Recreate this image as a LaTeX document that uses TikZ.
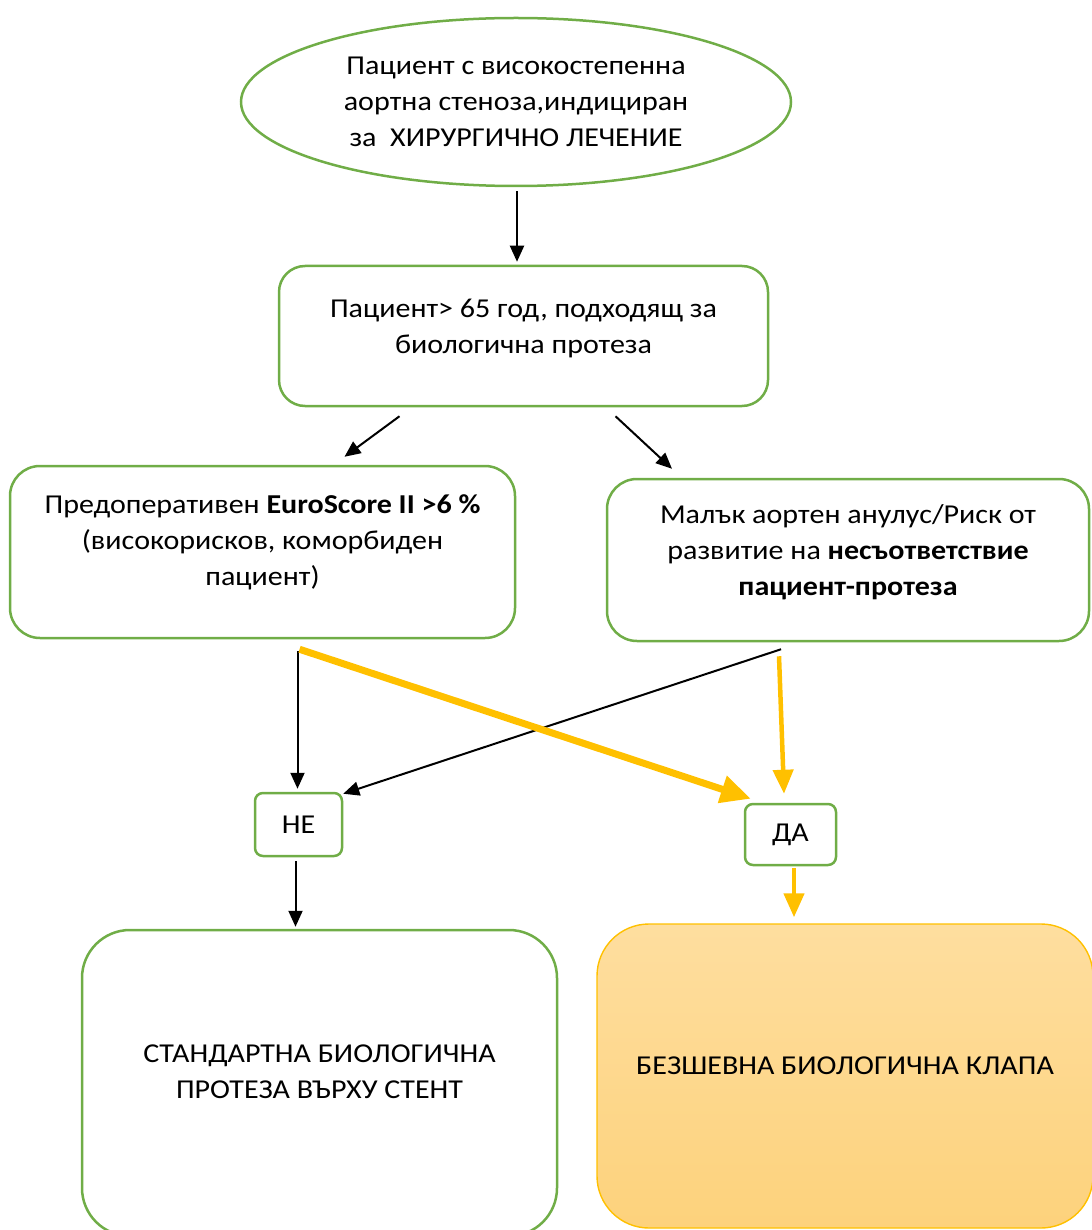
\documentclass[tikz,border=0pt]{standalone}
\usepackage{fontspec}
\setmainfont{Carlito}[FakeStretch=1.1]
\usepackage{xcolor}
\usepackage{tikz}
\usetikzlibrary{positioning, shapes.geometric, arrows.meta, calc}
\definecolor{flowgreen}{HTML}{70AD47}
\definecolor{flowamber}{HTML}{FFC000}
\definecolor{valvetop}{HTML}{FEDE9F}
\definecolor{valvebot}{HTML}{FDD27C}

\begin{document}
\begin{tikzpicture}[x=1pt, y=-1pt,
    every node/.style={font=\fontsize{27.3}{36}\selectfont, align=center, inner sep=0pt},
    start/.style ={ellipse, draw=flowgreen, line width=2.5pt, minimum width=550pt, minimum height=168pt},
    box/.style   ={draw=flowgreen, line width=2.5pt, rounded corners=26pt},
    choice/.style={draw=flowgreen, line width=2.5pt, rounded corners=8pt},
    valve/.style ={draw=flowamber, line width=1.4pt, rounded corners=52pt, top color=valvetop, bottom color=valvebot},
    arrow/.style ={-{Triangle[length=16pt, width=14pt]}, line width=2pt, draw=black},
    yes/.style   ={-{Triangle[length=24pt, width=20pt]}, line width=4.5pt, draw=flowamber},
    yesbold/.style={-{Triangle[length=30pt, width=27pt]}, line width=7pt, draw=flowamber}
]
\useasboundingbox (0,0) rectangle (1091,1230);
% Row 1 -- indication
\node[start] (patient) at (516,102) {Пациент с високостепенна\\аортна стеноза,индициран\\за\ \ ХИРУРГИЧНО ЛЕЧЕНИЕ};
\node[box, minimum width=489pt, minimum height=140pt] (age) at (523.5,336)
    {Пациент> 65 год, подходящ за\\биологична протеза\\[-16pt]~};
% Row 2 -- criteria
\node[box, minimum width=505pt, minimum height=172pt, rounded corners=30pt] (euro) at (262.5,552)
    {Предоперативен \textbf{EuroScore II >6 \%}\\(високорисков, коморбиден\\пациент)\\[-12pt]~};
\node[box, minimum width=482pt, minimum height=162pt, rounded corners=30pt] (annulus) at (848,560)
    {Малък аортен анулус/Риск от\\развитие на \textbf{несъответствие}\\\textbf{пациент-протеза}\\[-16pt]~};
% Row 3 -- answers
\node[choice, minimum width=87pt, minimum height=63pt] (no)  at (298.5,824.5) {НЕ};
\node[choice, minimum width=91pt, minimum height=61pt] (yes) at (790.5,834.5) {ДА};
% Row 4 -- prosthesis
\node[box, minimum width=475pt, minimum height=306pt, rounded corners=48pt] (stented) at (319.5,1083)
    {СТАНДАРТНА БИОЛОГИЧНА\\ПРОТЕЗА ВЪРХУ СТЕНТ\\[-14pt]~};
\node[valve, minimum width=496pt, minimum height=304pt] (sutureless) at (845,1076)
    {БЕЗШЕВНА БИОЛОГИЧНА КЛАПА\\[-16pt]~};
% Arrows -- top
\draw[arrow] ([shift={(1,4)}]patient.south) -- ([shift={(-6.5,-3)}]age.north);
\draw[arrow] ([shift={(-124,9)}]age.south) -- ([shift={(82,-8)}]euro.north);
\draw[arrow] ([shift={(92,9)}]age.south) -- ([shift={(-176,-9)}]annulus.north);
% Criteria -> answers
\draw[arrow] ([shift={(35,12)}]euro.south) -- ([shift={(-1,-3)}]no.north);
\draw[arrow] ([shift={(-67,7)}]annulus.south) -- ([shift={(0,2)}]no.north east);
\draw[yesbold] ([shift={(37,10)}]euro.south) -- ([shift={(7,-4)}]yes.north west);
\draw[yes] ([shift={(-69,14)}]annulus.south) -- ([shift={(-6.5,-9)}]yes.north);
% Answers -> prosthesis
\draw[arrow] ([shift={(-3,4)}]no.south) -- ([shift={(-24,-2)}]stented.north);
\draw[yes] ([shift={(3.5,2)}]yes.south) -- ([shift={(-51,-6)}]sutureless.north);
\end{tikzpicture}
\end{document}
